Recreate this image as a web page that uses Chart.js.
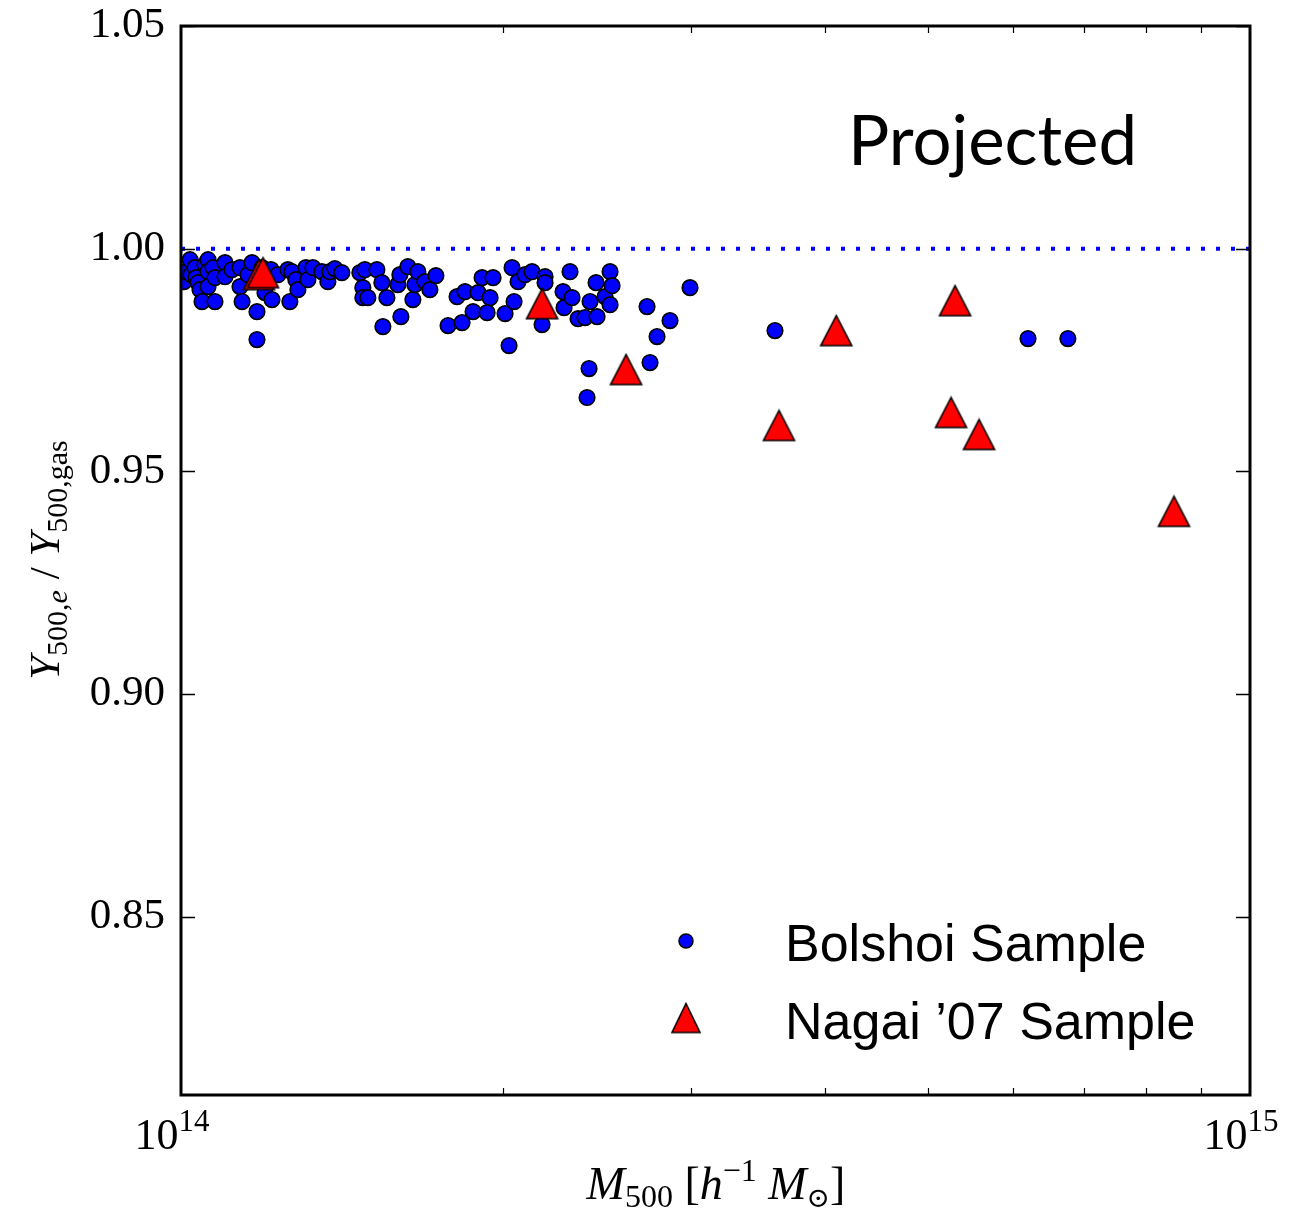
<!DOCTYPE html>
<html><head><meta charset="utf-8">
<script src="https://cdn.jsdelivr.net/npm/chart.js@4.4.0/dist/chart.umd.min.js"></script>
<style>html,body{margin:0;padding:0;background:#fff;}#wrap{width:1295px;height:1211px;}</style>
</head><body><div id="wrap"><canvas id="c" width="1295" height="1211"></canvas></div>
<script>
// ---- data (masses in units of 1e14 h^-1 Msun) ----
const bolshoiMass = [1.0065,1.0108,1.0196,1.0218,1.0306,1.0328,1.0373,1.0418,1.0463,1.0530,
  1.0599,1.0599,1.0599,1.0713,1.0759,1.0759,1.0994,1.0994,1.1161,1.1355,
  1.1355,1.1406,1.1553,1.1653,1.1778,1.1778,1.1906,1.1983,1.2139,1.2165,
  1.2323,1.2589,1.2643,1.2698,1.2807,1.2863,1.3087,1.3143,1.3286,1.3545,
  1.3721,1.3780,1.3929,1.4140,1.4700,1.4795,1.4795,1.4859,1.4955,1.5249,
  1.5414,1.5447,1.5581,1.5954,1.6023,1.6058,1.6301,1.6478,1.6549,1.6656,
  1.6909,1.7093,1.7316,1.7775,1.8123,1.8320,1.8438,1.8759,1.8962,1.9127,
  1.9334,1.9459,1.9585,2.0098,2.0272,2.0403,2.0491,2.0668,2.0982,2.1301,
  2.1765,2.1906,2.1906,2.2771,2.2820,2.3117,2.3217,2.3519,2.3876,2.3979,
  2.4083,2.4135,2.4449,2.4502,2.4928,2.5198,2.5198,2.5307,2.7287,2.7464,
  2.7881,2.8672,2.9934,3.5946,6.1994,6.7552];
const bolshoiRatio = [0.99260,0.99484,0.99753,0.99417,0.99574,0.99350,0.99238,0.99081,0.98812,0.99641,
  0.99753,0.99484,0.99148,0.99574,0.99350,0.98812,0.99686,0.99372,0.99529,0.99574,
  0.99148,0.98812,0.99417,0.99686,0.98587,0.97960,0.99574,0.99013,0.99529,0.98857,
  0.99417,0.99529,0.98812,0.99484,0.99305,0.99081,0.99574,0.99305,0.99574,0.99484,
  0.99260,0.99484,0.99552,0.99462,0.99462,0.99126,0.98901,0.99529,0.98901,0.99529,
  0.99238,0.98251,0.98901,0.99193,0.99417,0.98475,0.99596,0.98857,0.99193,0.99484,
  0.99260,0.99081,0.99395,0.98274,0.98924,0.98341,0.99036,0.98587,0.99013,0.99350,
  0.98565,0.98901,0.99350,0.98543,0.97825,0.99574,0.98812,0.99260,0.99417,0.99484,
  0.98296,0.99372,0.99238,0.99036,0.98677,0.99484,0.98901,0.98430,0.98453,0.96659,
  0.97309,0.98812,0.99238,0.98475,0.98924,0.99484,0.98744,0.99170,0.98700,0.97444,
  0.98027,0.98386,0.99126,0.98161,0.97982,0.97982];
const nagaiMass  = [1.1829,1.1931,2.1765,2.6081,3.6257,4.1014,5.2975,5.2520,5.5784,8.4898];
const nagaiRatio = [0.99417,0.99462,0.98767,0.97287,0.96031,0.98161,0.98834,0.96323,0.95830,0.94103];
const massUnit = 1e14;
const yTicks = [0.85, 0.90, 0.95, 1.00, 1.05];
const xMajorTicks = [1e14, 1e15];
const xMinorTicks = [2e14, 3e14, 4e14, 5e14, 6e14, 7e14, 8e14, 9e14];
const xMajorExp = ['14', '15'];
const referenceLevel = 1.00;
const seriesNames = ['Bolshoi Sample', 'Nagai \u201907 Sample'];
const annotationText = 'Projected';

// ---- styles ----
const SERIF = "'Liberation Serif','DejaVu Serif',serif";
const SANS = "'Liberation Sans',Arial,sans-serif";

function makeTriangle(w, h, lw) {
  const c = document.createElement('canvas');
  c.width = Math.ceil(w + 4); c.height = Math.ceil(h + 4);
  const g = c.getContext('2d');
  const cx = c.width / 2, cy = c.height / 2;
  g.beginPath();
  g.moveTo(cx, cy - h / 2);
  g.lineTo(cx - w / 2, cy + h / 2);
  g.lineTo(cx + w / 2, cy + h / 2);
  g.closePath();
  g.fillStyle = '#ff0000'; g.fill();
  g.lineWidth = lw; g.strokeStyle = '#000'; g.lineJoin = 'miter'; g.stroke();
  return c;
}
const triImg = makeTriangle(31, 30, 1.6);
const triLegend = makeTriangle(28, 29, 1.6);

function fontOf(p) { return (p.italic ? 'italic ' : '') + p.size + 'px ' + (p.family || SERIF); }
function richWidth(ctx, parts) {
  let w = 0;
  for (const p of parts) { ctx.font = fontOf(p); w += ctx.measureText(p.t).width; }
  return w;
}
function drawRich(ctx, parts, x, y) {
  let cx = x;
  for (const p of parts) {
    ctx.font = fontOf(p);
    ctx.fillText(p.t, cx, y + (p.dy || 0));
    cx += ctx.measureText(p.t).width;
  }
}

const decorPlugin = {
  id: 'decor',
  afterDatasetsDraw(chart) {
    const ctx = chart.ctx;
    const a = chart.chartArea;
    const xs = chart.scales.x, ys = chart.scales.y;
    ctx.save();
    ctx.strokeStyle = '#000';
    ctx.fillStyle = '#000';
    // ticks (inward, mirrored)
    ctx.lineWidth = 1.5;
    for (const v of yTicks) {
      const py = Math.round(ys.getPixelForValue(v)) + 0.5;
      ctx.beginPath();
      ctx.moveTo(a.left, py); ctx.lineTo(a.left + 14, py);
      ctx.moveTo(a.right, py); ctx.lineTo(a.right - 14, py);
      ctx.stroke();
    }
    ctx.lineWidth = 1.2;
    for (const v of xMinorTicks) {
      const px = Math.round(xs.getPixelForValue(v)) + 0.5;
      ctx.beginPath();
      ctx.moveTo(px, a.bottom); ctx.lineTo(px, a.bottom - 7);
      ctx.moveTo(px, a.top); ctx.lineTo(px, a.top + 7);
      ctx.stroke();
    }
    // frame
    ctx.lineWidth = 3;
    ctx.strokeRect(a.left, a.top, a.right - a.left, a.bottom - a.top);

    // x tick labels 10^14, 10^15
    ctx.textBaseline = 'alphabetic';
    ctx.textAlign = 'left';
    xMajorTicks.forEach((v, i) => {
      const parts = [{t: '10', size: 44}, {t: xMajorExp[i], size: 31, dy: -18}];
      const w = richWidth(ctx, parts);
      const px = xs.getPixelForValue(v);
      drawRich(ctx, parts, px - 9 - w / 2, 1149);
    });

    // x axis title
    const xt = [{t: 'M', size: 46, italic: true}, {t: '500', size: 32, dy: 8},
      {t: ' [', size: 46}, {t: 'h', size: 46, italic: true}, {t: '\u22121', size: 32, dy: -18},
      {t: ' M', size: 46, italic: true}, {t: '\u2299', size: 28, dy: 8, family: "'DejaVu Serif',serif"}, {t: ']', size: 46}];
    const xw = richWidth(ctx, xt);
    drawRich(ctx, xt, 716 - xw / 2, 1199);

    // y axis title (rotated)
    const yt = [{t: 'Y', size: 43, italic: true}, {t: '500,', size: 30, dy: 8}, {t: 'e', size: 30, italic: true, dy: 8},
      {t: ' / ', size: 43}, {t: 'Y', size: 43, italic: true}, {t: '500,gas', size: 30, dy: 8}];
    const yw = richWidth(ctx, yt);
    ctx.save();
    ctx.translate(59, 560);
    ctx.rotate(-Math.PI / 2);
    drawRich(ctx, yt, -yw / 2, 0);
    ctx.restore();

    // annotation
    ctx.font = "69px Lato, 'Open Sans', sans-serif";
    ctx.fillText(annotationText, 848, 165);

    // legend
    const lx = 686;
    ctx.fillStyle = '#0000ff';
    ctx.strokeStyle = '#000';
    ctx.lineWidth = 1.5;
    ctx.beginPath(); ctx.arc(lx, 941, 7, 0, Math.PI * 2); ctx.fill(); ctx.stroke();
    ctx.drawImage(triLegend, lx - triLegend.width / 2, 1018 - triLegend.height / 2);
    ctx.fillStyle = '#000';
    ctx.font = '52px ' + SANS;
    ctx.fillText(seriesNames[0], 785, 961);
    ctx.fillText(seriesNames[1], 785, 1039);
    ctx.restore();
  }
};

const bolshoiData = bolshoiMass.map((m, i) => ({x: m * massUnit, y: bolshoiRatio[i]}));
const nagaiData = nagaiMass.map((m, i) => ({x: m * massUnit, y: nagaiRatio[i]}));
const refData = [{x: xMajorTicks[0], y: referenceLevel}, {x: xMajorTicks[1], y: referenceLevel}];

new Chart(document.getElementById('c'), {
  type: 'scatter',
  data: {
    datasets: [
      {label: seriesNames[1], data: nagaiData, pointStyle: triImg, pointRadius: 16, pointHoverRadius: 16},
      {label: seriesNames[0], data: bolshoiData, pointStyle: 'circle', pointRadius: 7.8,
        backgroundColor: '#0000ff', borderColor: '#000', borderWidth: 1.6},
      {type: 'line', label: 'ref', data: refData, showLine: true, pointRadius: 0,
        borderColor: '#0000ff', borderWidth: 4, borderDash: [4, 11], borderCapStyle: 'butt', fill: false}
    ]
  },
  options: {
    responsive: false,
    animation: false,
    devicePixelRatio: 1,
    layout: {padding: {left: 0, top: 26, right: 45, bottom: 0}},
    plugins: {legend: {display: false}, tooltip: {enabled: false}},
    scales: {
      x: {
        type: 'logarithmic', min: 1e14, max: 1e15,
        grid: {display: false, drawTicks: false}, border: {display: false},
        ticks: {display: false},
        afterFit(s) { s.height = 116; s.paddingLeft = 0; s.paddingRight = 0; s.paddingTop = 0; s.paddingBottom = 0; }
      },
      y: {
        type: 'linear', min: 0.81, max: 1.05,
        grid: {display: false, drawTicks: false}, border: {display: false},
        afterBuildTicks(s) { s.ticks = yTicks.map(v => ({value: v})); },
        ticks: {color: '#000', padding: 16, font: {family: SERIF, size: 43},
          callback: v => Number(v).toFixed(2)},
        afterFit(s) { s.width = 181; s.paddingTop = 0; s.paddingBottom = 0; s.paddingLeft = 0; s.paddingRight = 0; }
      }
    }
  },
  plugins: [decorPlugin]
});
</script></body></html>
